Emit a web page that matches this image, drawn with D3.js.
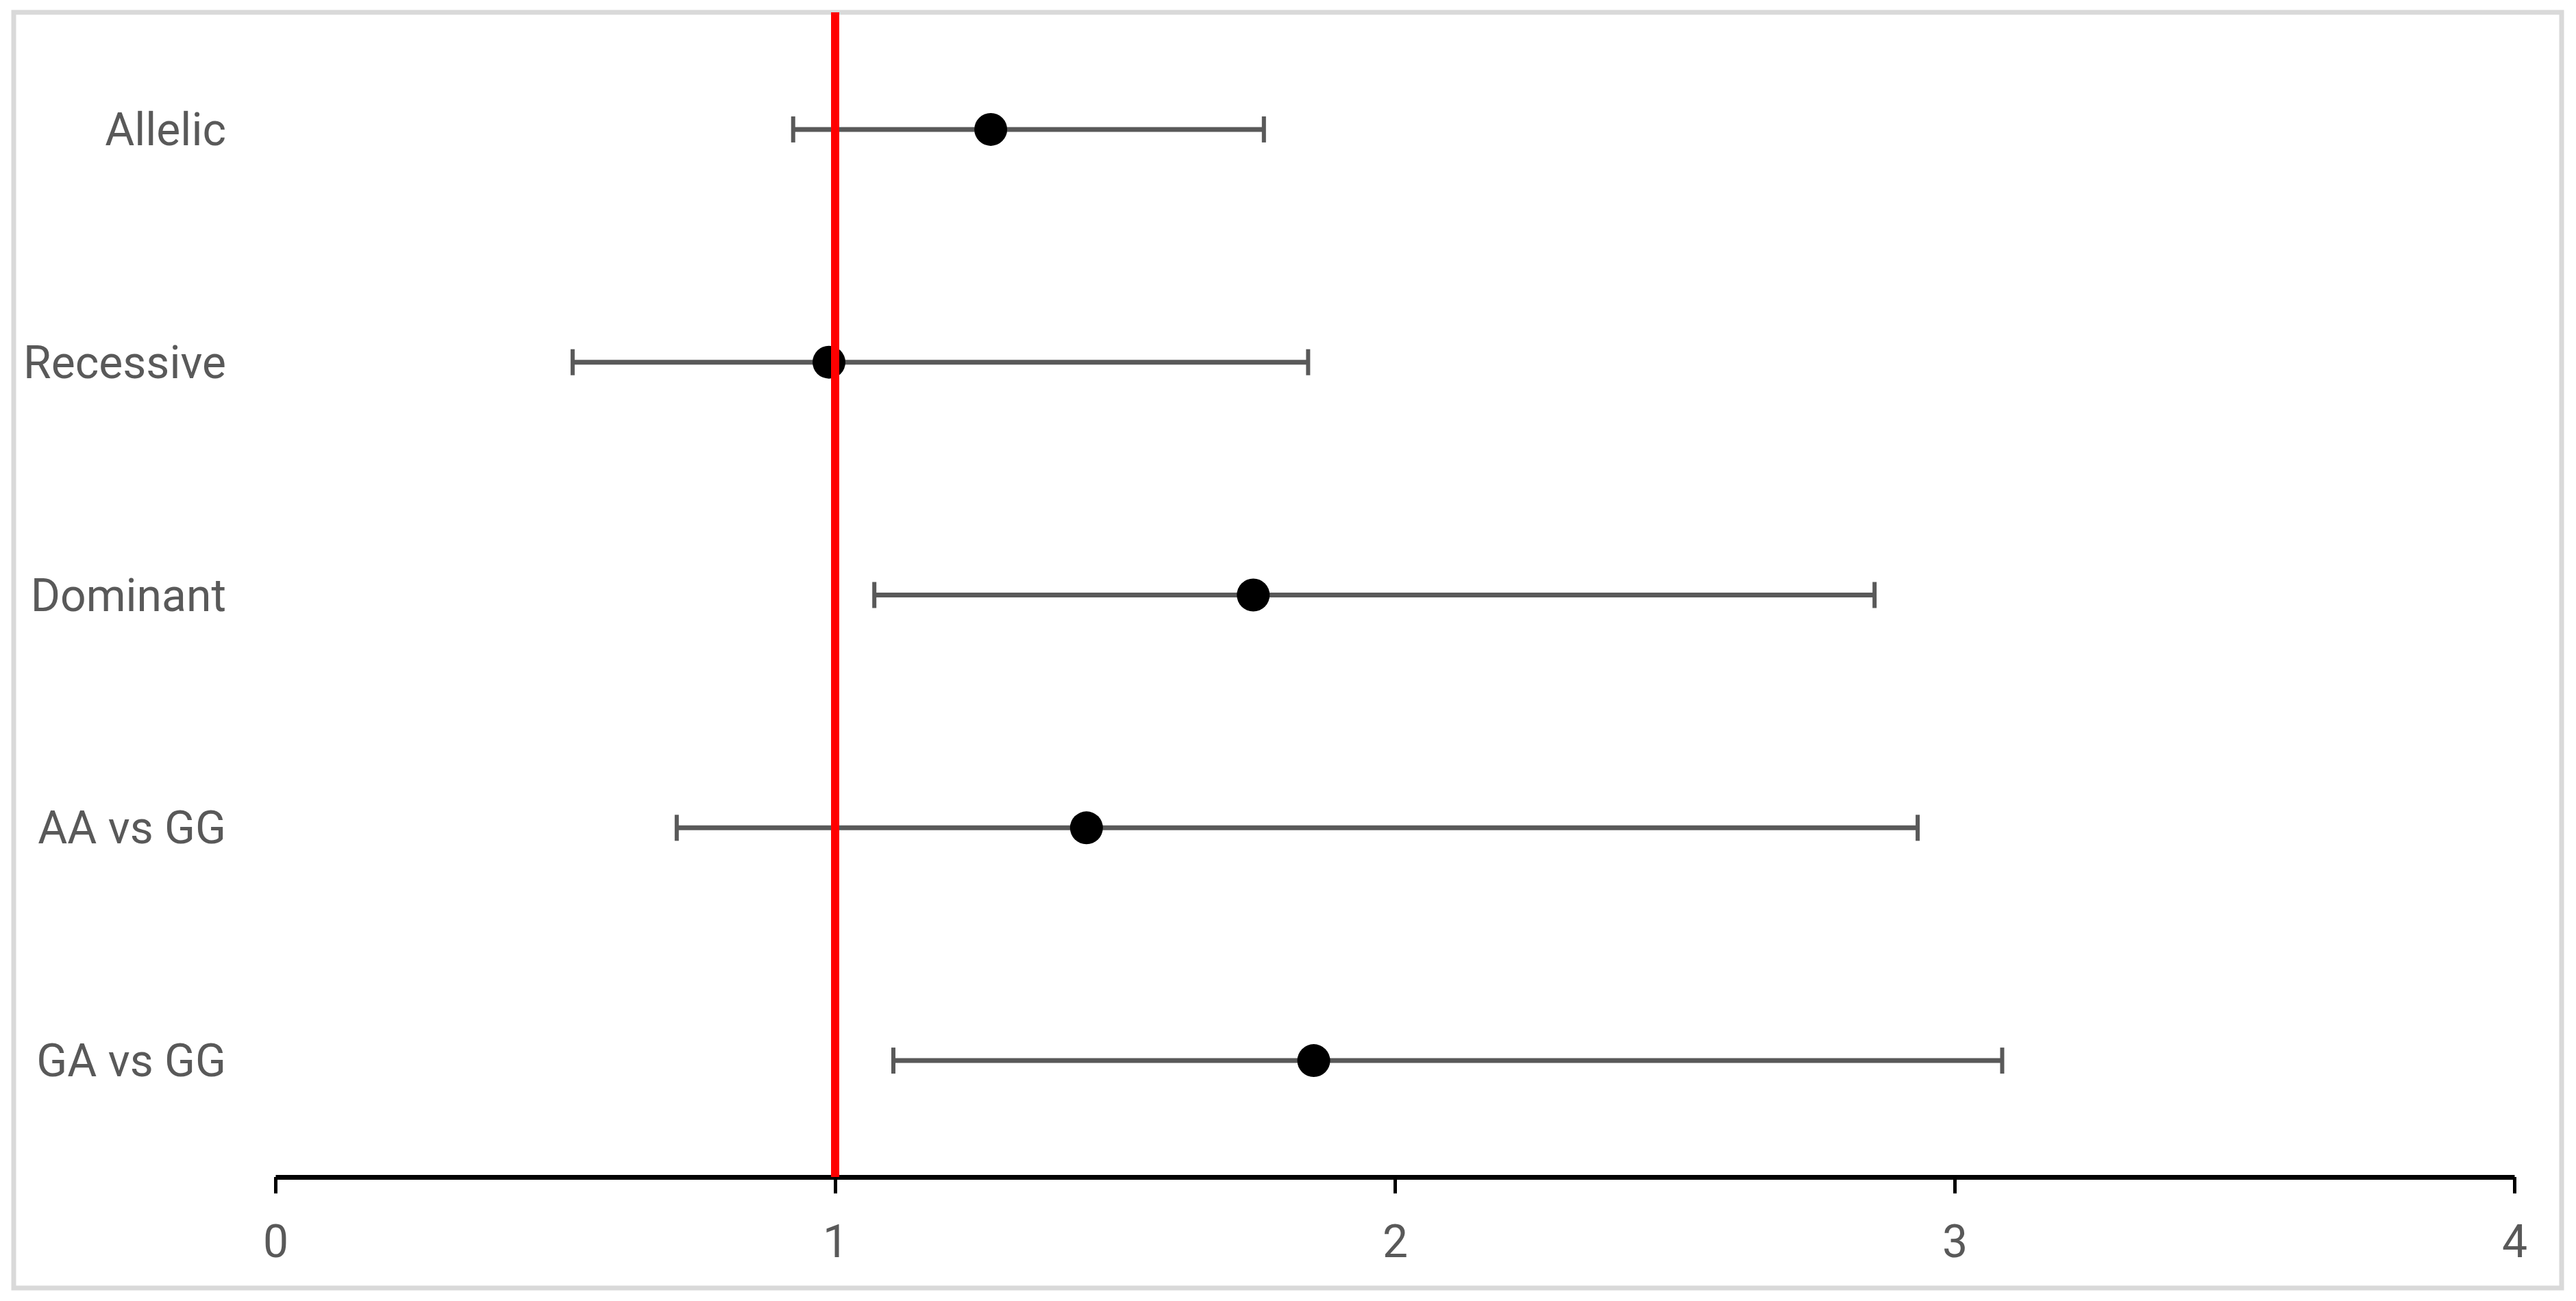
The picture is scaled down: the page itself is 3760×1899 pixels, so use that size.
<!DOCTYPE html>
<html>
<head>
<meta charset="utf-8">
<script src="https://cdn.jsdelivr.net/npm/d3@7"></script>
<style>
  html, body { margin: 0; padding: 0; background: #fff; }
  svg { display: block; }
</style>
</head>
<body>
<div id="chart"></div>
<script>
// odds ratios with 95% CI
const categories = ['Allelic', 'Recessive', 'Dominant', 'AA vs GG', 'GA vs GG']
const estimates = [1.278, 0.989, 1.747, 1.449, 1.855]
const lowerCI = [0.925, 0.531, 1.07, 0.717, 1.104]
const upperCI = [1.766, 1.845, 2.857, 2.934, 3.085]
const xTicks = [0, 1, 2, 3, 4]
const referenceValue = 1

const W = 3760
const H = 1899
const margin = { top: 19, left: 402, right: 90, bottom: 181 }
const width = W - margin.left - margin.right
const height = H - margin.top - margin.bottom

const fontFamily = 'Roboto, "Liberation Sans", sans-serif'
const textColor = '#595959'

const svg = d3
  .select('#chart')
  .append('svg')
  .attr('width', W)
  .attr('height', H)

// chart area border
svg
  .append('rect')
  .attr('x', 20)
  .attr('y', 18)
  .attr('width', 3719)
  .attr('height', 1862)
  .attr('fill', '#fff')
  .attr('stroke', '#d9d9d9')
  .attr('stroke-width', 7)

const g = svg
  .append('g')
  .attr('transform', 'translate(' + margin.left + ',' + margin.top + ')')

const xPositionScale = d3.scaleLinear().domain([0, 4]).range([0, width])
const yPositionScale = d3
  .scaleBand()
  .domain(categories)
  .range([0, height])
  .padding(0)

const rows = categories.map((c, i) => ({
  name: c,
  est: estimates[i],
  lo: lowerCI[i],
  hi: upperCI[i]
}))

// category labels
g.selectAll('.cat-label')
  .data(rows)
  .enter()
  .append('text')
  .attr('class', 'cat-label')
  .attr('x', -72)
  .attr('y', d => yPositionScale(d.name) + yPositionScale.bandwidth() / 2)
  .attr('dy', '0.35em')
  .attr('text-anchor', 'end')
  .attr('font-family', fontFamily)
  .attr('font-size', 66)
  .attr('fill', textColor)
  .text(d => d.name)

// error bars
const bars = g
  .selectAll('.ci')
  .data(rows)
  .enter()
  .append('g')
  .attr('class', 'ci')
  .attr(
    'transform',
    d => 'translate(0,' + (yPositionScale(d.name) + yPositionScale.bandwidth() / 2) + ')'
  )

bars
  .append('line')
  .attr('x1', d => xPositionScale(d.lo))
  .attr('x2', d => xPositionScale(d.hi))
  .attr('stroke', '#595959')
  .attr('stroke-width', 7)

bars
  .selectAll('.cap')
  .data(d => [d.lo, d.hi])
  .enter()
  .append('line')
  .attr('class', 'cap')
  .attr('x1', d => xPositionScale(d))
  .attr('x2', d => xPositionScale(d))
  .attr('y1', -19)
  .attr('y2', 19)
  .attr('stroke', '#595959')
  .attr('stroke-width', 6)

bars
  .append('circle')
  .attr('cx', d => xPositionScale(d.est))
  .attr('r', 24)
  .attr('fill', '#000')

// x axis
const xAxis = d3
  .axisBottom(xPositionScale)
  .tickValues(xTicks)
  .tickFormat(d3.format('d'))
  .tickSizeInner(24)
  .tickSizeOuter(0)
  .tickPadding(46)

const axisG = g
  .append('g')
  .attr('class', 'axis x-axis')
  .attr('transform', 'translate(0,' + height + ')')
  .call(xAxis)

axisG.select('.domain').attr('stroke', '#000').attr('stroke-width', 7)
axisG.selectAll('.tick line').attr('stroke', '#000').attr('stroke-width', 5)
axisG
  .selectAll('.tick text')
  .attr('font-family', fontFamily)
  .attr('font-size', 66)
  .attr('fill', textColor)

// reference line at OR = 1, drawn on top
g.append('line')
  .attr('x1', xPositionScale(referenceValue))
  .attr('x2', xPositionScale(referenceValue))
  .attr('y1', -1)
  .attr('y2', height)
  .attr('stroke', '#ff0000')
  .attr('stroke-width', 12)
</script>
</body>
</html>
